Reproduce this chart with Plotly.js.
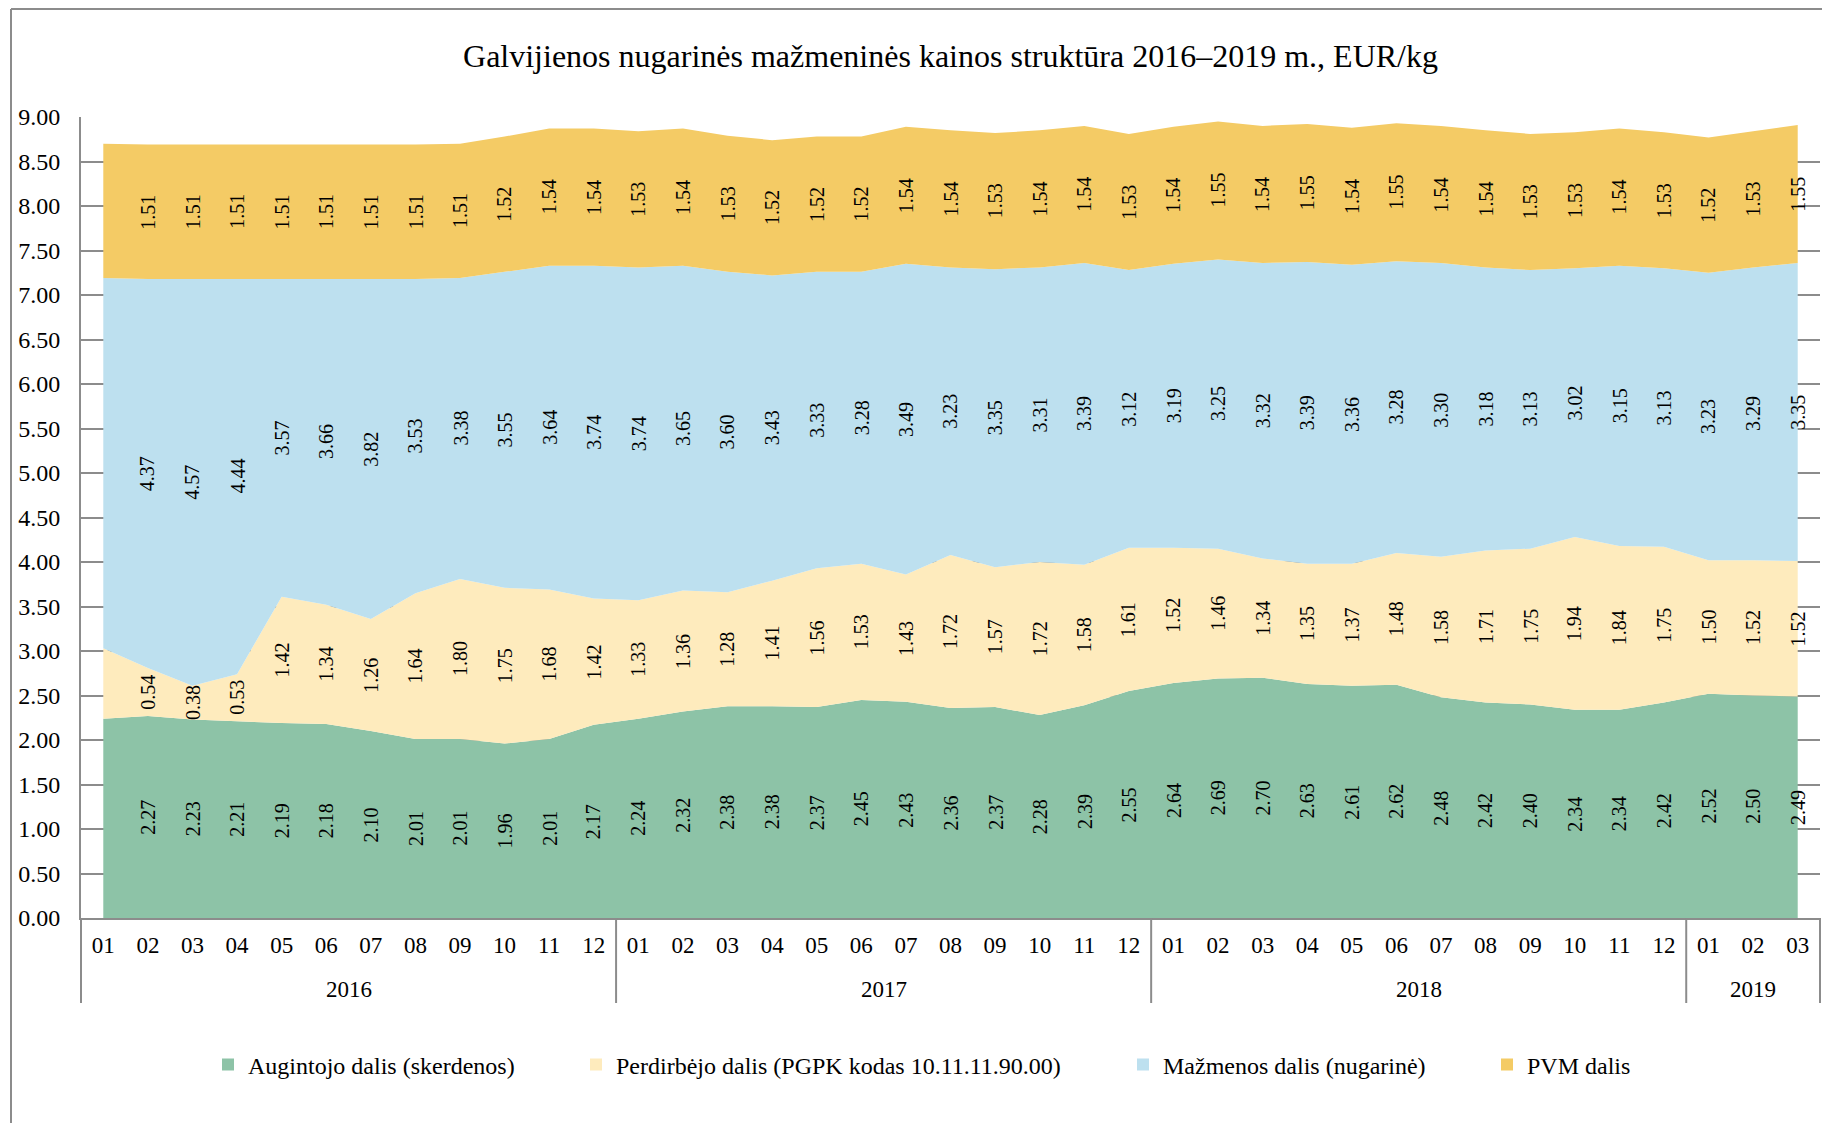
<!DOCTYPE html>
<html>
<head>
<meta charset="utf-8">
<script src="https://cdn.plot.ly/plotly-3.0.1.min.js"></script>
<style>
  html, body { margin: 0; padding: 0; background: #fff; overflow: hidden; }
  #chart { width: 1822px; height: 1123px; }
</style>
</head>
<body>
<div id="chart"></div>
<script>
// ---- Data ----
const yearCat = [
  '2016','2016','2016','2016','2016','2016','2016','2016','2016','2016','2016','2016',
  '2017','2017','2017','2017','2017','2017','2017','2017','2017','2017','2017','2017',
  '2018','2018','2018','2018','2018','2018','2018','2018','2018','2018','2018','2018',
  '2019','2019','2019'
];
const monthCat = [
  '01','02','03','04','05','06','07','08','09','10','11','12',
  '01','02','03','04','05','06','07','08','09','10','11','12',
  '01','02','03','04','05','06','07','08','09','10','11','12',
  '01','02','03'
];
const seriesNames = [
  'Augintojo dalis (skerdenos)',
  'Perdirbėjo dalis (PGPK kodas 10.11.11.90.00)',
  'Mažmenos dalis (nugarinė)',
  'PVM dalis'
];
const augintojo = [2.24,2.27,2.23,2.21,2.19,2.18,2.10,2.01,2.01,1.96,2.01,2.17,
  2.24,2.32,2.38,2.38,2.37,2.45,2.43,2.36,2.37,2.28,2.39,2.55,
  2.64,2.69,2.70,2.63,2.61,2.62,2.48,2.42,2.40,2.34,2.34,2.42,
  2.52,2.50,2.49];
const perdirbejo = [0.79,0.54,0.38,0.53,1.42,1.34,1.26,1.64,1.80,1.75,1.68,1.42,
  1.33,1.36,1.28,1.41,1.56,1.53,1.43,1.72,1.57,1.72,1.58,1.61,
  1.52,1.46,1.34,1.35,1.37,1.48,1.58,1.71,1.75,1.94,1.84,1.75,
  1.50,1.52,1.52];
const mazmenos = [4.16,4.37,4.57,4.44,3.57,3.66,3.82,3.53,3.38,3.55,3.64,3.74,
  3.74,3.65,3.60,3.43,3.33,3.28,3.49,3.23,3.35,3.31,3.39,3.12,
  3.19,3.25,3.32,3.39,3.36,3.28,3.30,3.18,3.13,3.02,3.15,3.13,
  3.23,3.29,3.35];
const pvm = [1.51,1.51,1.51,1.51,1.51,1.51,1.51,1.51,1.51,1.52,1.54,1.54,
  1.53,1.54,1.53,1.52,1.52,1.52,1.54,1.54,1.53,1.54,1.54,1.53,
  1.54,1.55,1.54,1.55,1.54,1.55,1.54,1.54,1.53,1.53,1.54,1.53,
  1.52,1.53,1.55];
const titleText = 'Galvijienos nugarinės mažmeninės kainos struktūra 2016–2019 m., EUR/kg';

// ---- Styles ----
const colors = ['#8DC3A7', '#FEEBBD', '#BDE0EF', '#F4CB65'];
const FONT = 'Liberation Serif, Times New Roman, serif';
const GRID = '#8c8c8c';

const series = [augintojo, perdirbejo, mazmenos, pvm];
const n = monthCat.length;
// unique category keys (year-month); month text shown as tick label
const xKeys = yearCat.map((y, i) => y + '-' + monthCat[i]);

const traces = [];
series.forEach((vals, i) => {
  traces.push({
    type: 'scatter',
    x: xKeys,
    y: vals,
    name: seriesNames[i],
    stackgroup: 'one',
    mode: 'none',
    fillcolor: colors[i],
    showlegend: false,
    hoverinfo: 'x+y+name'
  });
});

// legend-only marker traces (square symbols like the reference legend)
const legendIds = ['legend', 'legend2', 'legend3', 'legend4'];
series.forEach((vals, i) => {
  traces.push({
    type: 'scatter',
    x: [xKeys[0]],
    y: [null],
    name: seriesNames[i],
    mode: 'markers',
    marker: { symbol: 'square', size: 12, color: colors[i] },
    showlegend: true,
    legend: legendIds[i],
    hoverinfo: 'skip'
  });
});

const plotL = 81, plotR = 1820, plotT = 117, plotB = 918;
const pw = plotR - plotL, ph = plotB - plotT;
const px2x = (px) => (px - plotL) / pw;
const px2y = (py) => (plotB - py) / ph;

// rotated value labels at the middle of every band (first month is unlabeled in the source)
const annotations = [];
for (let j = 1; j < n; j++) {
  let base = 0;
  series.forEach((vals) => {
    const v = vals[j];
    annotations.push({
      x: xKeys[j], y: base + v / 2, xref: 'x', yref: 'y',
      xanchor: 'center', yanchor: 'middle',
      text: v.toFixed(2), showarrow: false, textangle: -90,
      font: { family: FONT, size: 20, color: '#000' }
    });
    base += v;
  });
}

// year groups -> second-level labels and dividers
const groups = [];
yearCat.forEach((y, i) => {
  if (!groups.length || groups[groups.length - 1].year !== y) groups.push({ year: y, start: i, end: i });
  else groups[groups.length - 1].end = i;
});
const shapes = [];
const divLine = { color: GRID, width: 2 };
groups.forEach((g) => {
  annotations.push({
    x: (g.start + g.end + 1) / 2 / n, xref: 'paper', xanchor: 'center',
    y: px2y(989), yref: 'paper', yanchor: 'middle',
    text: g.year, showarrow: false,
    font: { family: FONT, size: 23, color: '#000' }
  });
  shapes.push({ type: 'line', xref: 'paper', yref: 'paper',
    x0: g.start / n, x1: g.start / n, y0: 0, y1: px2y(1003), line: divLine });
});
shapes.push({ type: 'line', xref: 'paper', yref: 'paper',
  x0: 1, x1: 1, y0: 0, y1: px2y(1003), line: divLine });

// outer chart frame (left and top edges visible)
shapes.push({ type: 'line', xref: 'paper', yref: 'paper', x0: px2x(11), x1: px2x(11), y0: px2y(1130), y1: px2y(9), line: divLine });
shapes.push({ type: 'line', xref: 'paper', yref: 'paper', x0: px2x(11), x1: px2x(1830), y0: px2y(9), y1: px2y(9), line: divLine });

const legendSquareLeft = [229, 597, 1144, 1508];
const legendY = px2y(1065);
const legendCommon = {
  orientation: 'h', yanchor: 'middle', xanchor: 'left',
  bgcolor: 'rgba(0,0,0,0)', borderwidth: 0,
  font: { family: FONT, size: 24, color: '#000' }
};

const layout = {
  width: 1822, height: 1123,
  margin: { l: plotL, r: 1822 - plotR, t: plotT, b: 1123 - plotB, pad: 0 },
  paper_bgcolor: '#fff', plot_bgcolor: '#fff',
  font: { family: FONT, color: '#000' },
  title: {
    text: titleText,
    font: { family: FONT, size: 32, color: '#000' },
    xref: 'paper', x: 0.5, xanchor: 'center',
    yref: 'container', y: 1 - 56 / 1123, yanchor: 'middle'
  },
  xaxis: {
    type: 'category',
    range: [-0.5, n - 0.5], autorange: false,
    tickmode: 'array', tickvals: xKeys, ticktext: monthCat,
    showline: true, linecolor: GRID, linewidth: 2,
    showgrid: false, zeroline: false,
    ticks: '', ticklabelstandoff: 5,
    tickangle: 0,
    tickfont: { family: FONT, size: 23, color: '#000' }
  },
  yaxis: {
    range: [0, 9], autorange: false, tick0: 0, dtick: 0.5, tickformat: '.2f',
    showgrid: true, gridcolor: GRID, gridwidth: 1.5,
    showline: true, linecolor: GRID, linewidth: 2,
    zeroline: false, ticks: '', ticklabelstandoff: 14,
    tickfont: { family: FONT, size: 24, color: '#000' }
  },
  showlegend: true,
  annotations: annotations,
  shapes: shapes
};
legendIds.forEach((id, i) => {
  layout[id] = Object.assign({}, legendCommon, { x: px2x(legendSquareLeft[i] - 21), y: legendY });
});

Plotly.newPlot('chart', traces, layout, { displayModeBar: false, responsive: false });
</script>
</body>
</html>
